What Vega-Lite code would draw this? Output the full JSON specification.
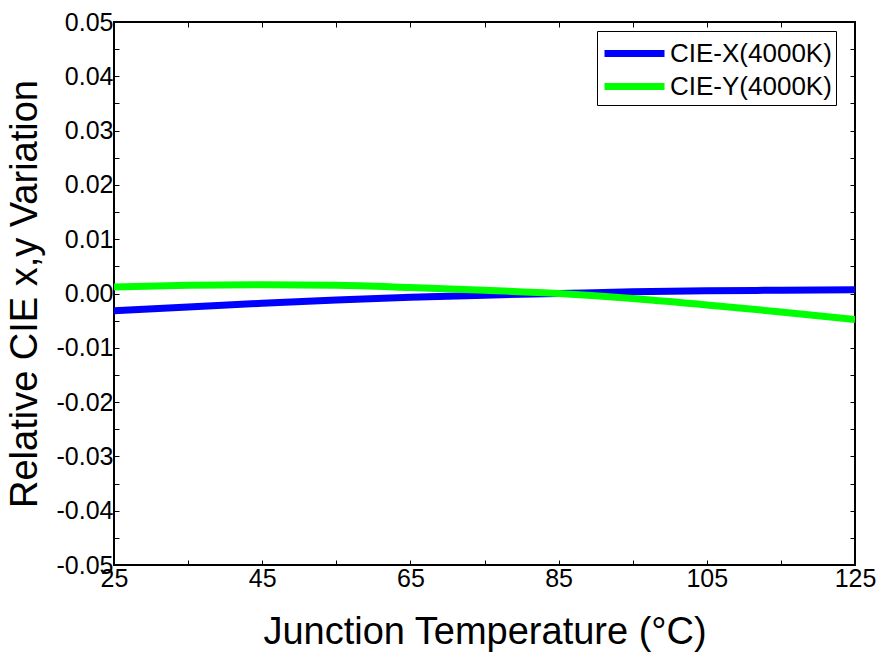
{
  "$schema": "https://vega.github.io/schema/vega-lite/v6.json",
  "width": 741,
  "height": 543,
  "autosize": "none",
  "padding": {"left": 114, "top": 22, "right": 25, "bottom": 92},
  "background": "white",
  "config": {
    "font": "Liberation Sans",
    "view": {"stroke": "black", "strokeWidth": 2},
    "axis": {
      "labelFont": "Liberation Sans",
      "titleFont": "Liberation Sans",
      "labelFontSize": 25,
      "titleFontSize": 38,
      "labelColor": "black",
      "titleColor": "black",
      "titleFontWeight": "normal",
      "gridColor": "#888888",
      "gridWidth": 1,
      "domain": false,
      "tickColor": "black",
      "tickWidth": 1,
      "tickSize": -5,
      "labelFlush": false,
      "labelOverlap": false,
      "labelBound": false
    }
  },
  "data": {
    "values": [
      {"t": 25, "v": -0.0032, "s": "CIE-X(4000K)"},
      {"t": 35, "v": -0.0025, "s": "CIE-X(4000K)"},
      {"t": 45, "v": -0.0018, "s": "CIE-X(4000K)"},
      {"t": 55, "v": -0.0012, "s": "CIE-X(4000K)"},
      {"t": 65, "v": -0.0007, "s": "CIE-X(4000K)"},
      {"t": 75, "v": -0.0003, "s": "CIE-X(4000K)"},
      {"t": 85, "v": 0.0, "s": "CIE-X(4000K)"},
      {"t": 95, "v": 0.0003, "s": "CIE-X(4000K)"},
      {"t": 105, "v": 0.0005, "s": "CIE-X(4000K)"},
      {"t": 115, "v": 0.0006, "s": "CIE-X(4000K)"},
      {"t": 125, "v": 0.0007, "s": "CIE-X(4000K)"},
      {"t": 25, "v": 0.0012, "s": "CIE-Y(4000K)"},
      {"t": 35, "v": 0.0015, "s": "CIE-Y(4000K)"},
      {"t": 45, "v": 0.0016, "s": "CIE-Y(4000K)"},
      {"t": 55, "v": 0.0015, "s": "CIE-Y(4000K)"},
      {"t": 65, "v": 0.0011, "s": "CIE-Y(4000K)"},
      {"t": 75, "v": 0.0006, "s": "CIE-Y(4000K)"},
      {"t": 85, "v": 0.0, "s": "CIE-Y(4000K)"},
      {"t": 95, "v": -0.0009, "s": "CIE-Y(4000K)"},
      {"t": 105, "v": -0.0021, "s": "CIE-Y(4000K)"},
      {"t": 115, "v": -0.0034, "s": "CIE-Y(4000K)"},
      {"t": 125, "v": -0.0048, "s": "CIE-Y(4000K)"}
    ]
  },
  "layer": [
    {
      "mark": {"type": "line", "opacity": 0},
      "encoding": {
        "x": {
          "field": "t",
          "type": "quantitative",
          "axis": {
            "orient": "top",
            "values": [25, 35, 45, 55, 65, 75, 85, 95, 105, 115, 125],
            "labels": false,
            "grid": false,
            "title": null
          }
        },
        "y": {
          "field": "v",
          "type": "quantitative",
          "axis": {
            "orient": "right",
            "values": [-0.05, -0.045, -0.04, -0.035, -0.03, -0.025, -0.02, -0.015, -0.01, -0.005, 0, 0.005, 0.01, 0.015, 0.02, 0.025, 0.03, 0.035, 0.04, 0.045, 0.05],
            "labels": false,
            "grid": false,
            "title": null
          }
        },
        "detail": {"field": "s"}
      }
    },
    {
      "mark": {"type": "line", "strokeWidth": 7, "interpolate": "monotone", "clip": true},
      "encoding": {
        "x": {
          "field": "t",
          "type": "quantitative",
          "scale": {"domain": [25, 125], "nice": false},
          "axis": {
            "orient": "bottom",
            "values": [25, 35, 45, 55, 65, 75, 85, 95, 105, 115, 125],
            "labelExpr": "datum.value % 20 == 5 ? datum.label : ''",
            "gridOpacity": {"condition": {"test": "datum.value % 20 == 5", "value": 1}, "value": 0},
            "title": "Junction Temperature (°C)",
            "labelPadding": 6,
            "titlePadding": 22
          }
        },
        "y": {
          "field": "v",
          "type": "quantitative",
          "scale": {"domain": [-0.05, 0.05], "nice": false, "zero": false},
          "axis": {
            "orient": "left",
            "values": [-0.05, -0.045, -0.04, -0.035, -0.03, -0.025, -0.02, -0.015, -0.01, -0.005, 0, 0.005, 0.01, 0.015, 0.02, 0.025, 0.03, 0.035, 0.04, 0.045, 0.05],
            "labelExpr": "abs(datum.value*100 - round(datum.value*100)) < 0.001 ? replace(format(datum.value, '.2f'), '−', '-') : ''",
            "gridOpacity": {"condition": {"test": "abs(datum.value*100 - round(datum.value*100)) < 0.001", "value": 1}, "value": 0},
            "title": "Relative CIE x,y Variation",
            "labelPadding": 6,
            "titlePadding": 12
          }
        },
        "color": {
          "field": "s",
          "type": "nominal",
          "scale": {"domain": ["CIE-X(4000K)", "CIE-Y(4000K)"], "range": ["#0000ff", "#00ff00"]},
          "legend": {
            "title": null,
            "orient": "none",
            "legendX": 483,
            "legendY": 9,
            "symbolType": "M-1,0L3,0",
            "symbolSize": 900,
            "symbolStrokeWidth": 7,
            "labelFont": "Liberation Sans",
            "labelFontSize": 26,
            "labelLimit": 0,
            "labelColor": "black",
            "strokeColor": "black",
            "fillColor": "white",
            "padding": 4,
            "rowPadding": -4,
            "labelOffset": 32
          }
        }
      }
    }
  ],
  "resolve": {"axis": {"x": "independent", "y": "independent"}}
}
